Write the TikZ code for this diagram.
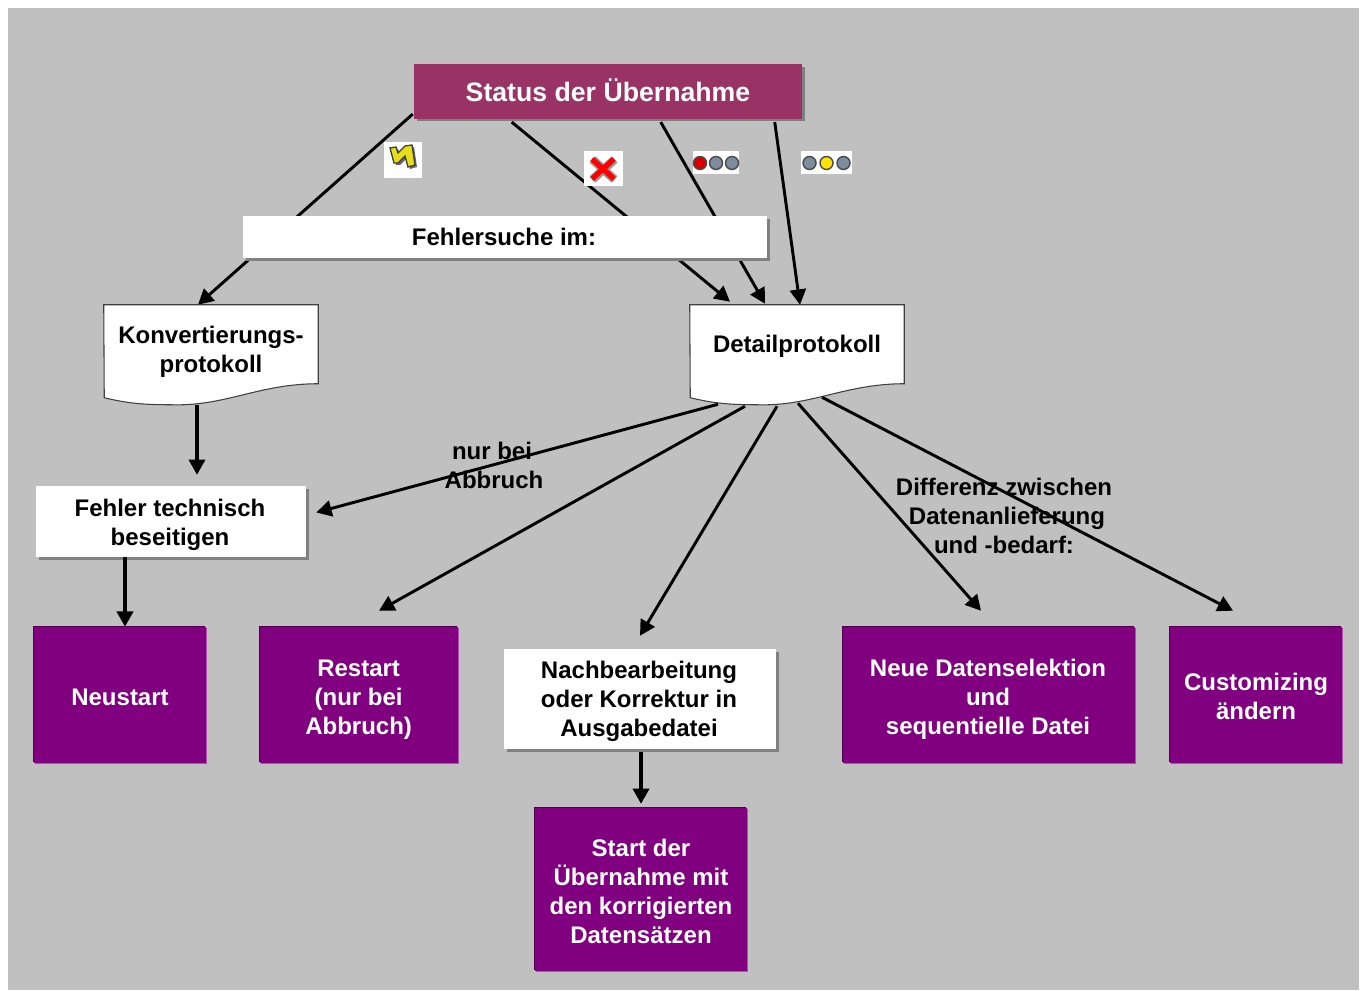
\documentclass[tikz,border=0pt]{standalone}
\usepackage{fontspec}
\setmainfont{Liberation Sans}
\usetikzlibrary{arrows.meta,shadows}
\definecolor{panelgray}{HTML}{C0C0C0}
\definecolor{boxpurple}{HTML}{800080}
\definecolor{purpledark}{HTML}{4D004D}
\definecolor{purplelight}{HTML}{B050B0}
\definecolor{titlered}{HTML}{993366}
\definecolor{shadegray}{HTML}{808080}
\definecolor{lampgray}{HTML}{7C8C9C}
\tikzset{
  txt/.style={font=\fontsize{18}{21.8}\bfseries\selectfont, align=center, inner sep=0pt},
  flow/.style={line width=2.2pt, draw=black},
  arr/.style={flow, -{Triangle[length=11.5pt,width=12pt]}},
  thickarr/.style={arr, line width=3pt},
  whitebox/.style={txt, fill=white, text=black, draw=none, drop shadow={shadow xshift=2pt, shadow yshift=-2pt, opacity=1, fill=shadegray}},
  purplebox/.style={txt, fill=boxpurple, text=white,
    general shadow={fill=purplelight, shadow xshift=.7pt, shadow yshift=-.7pt},
    general shadow={fill=purpledark, shadow xshift=-.7pt, shadow yshift=.7pt}},
  wcap/.style 2 args={label={[txt,text=black,#1]center:{#2}}},
  pcap/.style 2 args={label={[txt,text=white,#1]center:{#2}}},
  lamp/.style={draw=black!70, line width=1.1pt},
}
% sheet with a wavy lower edge, hung from the node's top corners
\newcommand{\docsheet}[1]{
  \path[fill=shadegray, shift={(2.5,2.5)}] (#1.north west) -- (#1.north east) -- ++(0,79)
    .. controls +(-60,0) and +(55,2) .. ++(-148,21) .. controls +(-25,0) and +(25,6) .. ++(-66,-7) -- cycle;
  \draw[fill=white, line width=.8pt, draw=black!75] (#1.north west) -- (#1.north east) -- ++(0,79)
    .. controls +(-60,0) and +(55,2) .. ++(-148,21) .. controls +(-25,0) and +(25,6) .. ++(-66,-7) -- cycle;
}
\newcommand{\lights}[6]{
  \fill[white] (#1-#2,151) rectangle (#1+#2,174.5);
  \draw[lamp, fill=#3] (#1-#6,163) circle (6.5);
  \draw[lamp, fill=#4] (#1,163) circle (6.5);
  \draw[lamp, fill=#5] (#1+#6,163) circle (6.5);
}
\begin{document}
\begin{tikzpicture}[x=0.75pt, y=-0.75pt]
  \useasboundingbox (0,0) rectangle (1360,991);
  \fill[panelgray] (8,8) rectangle (1359,990);

  % top box and the two sheets
  \node[txt, minimum height=41pt, minimum width=291pt, fill=titlered,
        drop shadow={shadow xshift=2pt, shadow yshift=-2pt, opacity=1, fill=shadegray},
        pcap={font=\fontsize{20}{24}\bfseries\selectfont, yshift=.6pt}{Status der Übernahme}] (status) at (608,91.5) {};
  \path (211,349) node[txt, minimum width=160.5pt, minimum height=66pt] (konv) {};
  \path (797,344) node[txt, minimum width=160.5pt, minimum height=58.5pt] (detail) {};

  % arrows from the top box
  \draw[arr] ([shift={(-1,-5)}]status.south west) -- ([shift={(-13,0)}]konv.north);
  \draw[arr] ([shift={(98,3)}]status.south west) -- ([shift={(-67,-3)}]detail.north);
  \draw[arr] ([shift={(247,3)}]status.south west) -- ([shift={(-32,-1)}]detail.north);
  \draw[arr] ([shift={(361,3)}]status.south west) -- ([shift={(3,0)}]detail.north);

  \docsheet{konv}
  \docsheet{detail}
  \node[txt] (konvtext) at ([shift={(0,3)}]konv.center) {Konvertierungs-\\protokoll};
  \node[txt] (detailtext) at ([shift={(0,2)}]detail.center) {Detailprotokoll};
  \node[whitebox, minimum width=393pt, minimum height=31.5pt] (fehlersuche) at (505,237) {\hspace*{-1.5pt}Fehlersuche im:};

  % lower boxes
  \node[whitebox, minimum width=202.5pt, minimum height=53pt, wcap={xshift=-.75pt, yshift=-2.2pt}{Fehler technisch\\beseitigen}] (technisch) at (171,521.5) {};
  \node[purplebox, minimum width=129pt, minimum height=102pt, pcap={yshift=-1.5pt}{Neustart}] (neustart) at (120,695) {};
  \node[purplebox, minimum width=149pt, minimum height=102pt, pcap={xshift=-.3pt, yshift=-3.7pt}{Restart\\(nur bei\\Abbruch)}] (restart) at (359,695) {};
  \node[whitebox, minimum width=204pt, minimum height=75pt, wcap={xshift=-.75pt, yshift=-1.5pt}{Nachbearbeitung\\oder Korrektur in\\Ausgabedatei}] (nachbearb) at (640,699) {};
  \node[purplebox, minimum width=219pt, minimum height=102pt, pcap={xshift=-.75pt, yshift=-3pt}{Neue Datenselektion\\und\\sequentielle Datei}] (selektion) at (989,695) {};
  \node[purplebox, minimum width=129pt, minimum height=102pt, pcap={yshift=-.8pt}{Customizing\\ändern}] (custom) at (1256,695) {};
  \node[purplebox, minimum width=159pt, minimum height=122pt, pcap={yshift=-1.5pt}{Start der\\Übernahme mit\\den korrigierten\\Datensätzen}] (startkorr) at (641,889.5) {};

  % arrows from the sheets
  \draw[thickarr] ([shift={(-14,12)}]konv.south) -- ([shift={(26,-11)}]technisch.north);
  \draw[arr] ([shift={(-79,21)}]detail.south) -- ([shift={(10,-9)}]technisch.east);
  \draw[arr] ([shift={(-52,23)}]detail.south) -- ([shift={(20,-16)}]restart.north);
  \draw[arr] ([shift={(-20,23)}]detail.south) -- ([shift={(0,-13)}]nachbearb.north);
  \draw[arr] ([shift={(1,20)}]detail.south) -- ([shift={(-8,-16)}]selektion.north);
  \draw[arr] ([shift={(25,14)}]detail.south) -- ([shift={(-23,-16)}]custom.north);
  \draw[thickarr] ([shift={(-46,0)}]technisch.south) -- ([shift={(5,0)}]neustart.north);
  \draw[thickarr] ([shift={(1,3)}]nachbearb.south) -- ([shift={(0,-4)}]startkorr.north);

  % labels on the arrows
  \node[txt] (abbruch) at (492,465.5) {nur bei\\ \,Abbruch};
  \node[txt] (differenz) at (1004,516) {Differenz zwischen\\\hspace*{4.5pt}Datenanlieferung\\und -bedarf:};

  % status icons
  \fill[white] (384,142) rectangle (422,178);
  \fill[black!60] (392,150) -- (398,149) -- (400,155) -- (407,148) -- (414,147) -- (417,167) -- (410,169) -- (407,158) -- (400,165) -- (396,165) -- cycle;
  \draw[fill=yellow!90!black, draw=black!75, line width=1pt] (390,148) -- (396,147) -- (398,153) -- (405,146) -- (412,145) -- (415,165) -- (408,167) -- (405,156) -- (398,163) -- (394,163) -- cycle;
  \fill[white] (584,151) rectangle (623,186);
  \draw[line width=6.5pt, draw=black!40, shift={(0.5,0.5)}] (592,159) -- (614,179) (614,159) -- (592,179);
  \draw[line width=4pt, draw=red] (592,159) -- (614,179) (614,159) -- (592,179);
  \lights{716}{23}{red!85!black}{lampgray}{lampgray}{16}
  \lights{826.5}{25.5}{lampgray}{yellow!85!orange}{lampgray}{17}
\end{tikzpicture}
\end{document}
